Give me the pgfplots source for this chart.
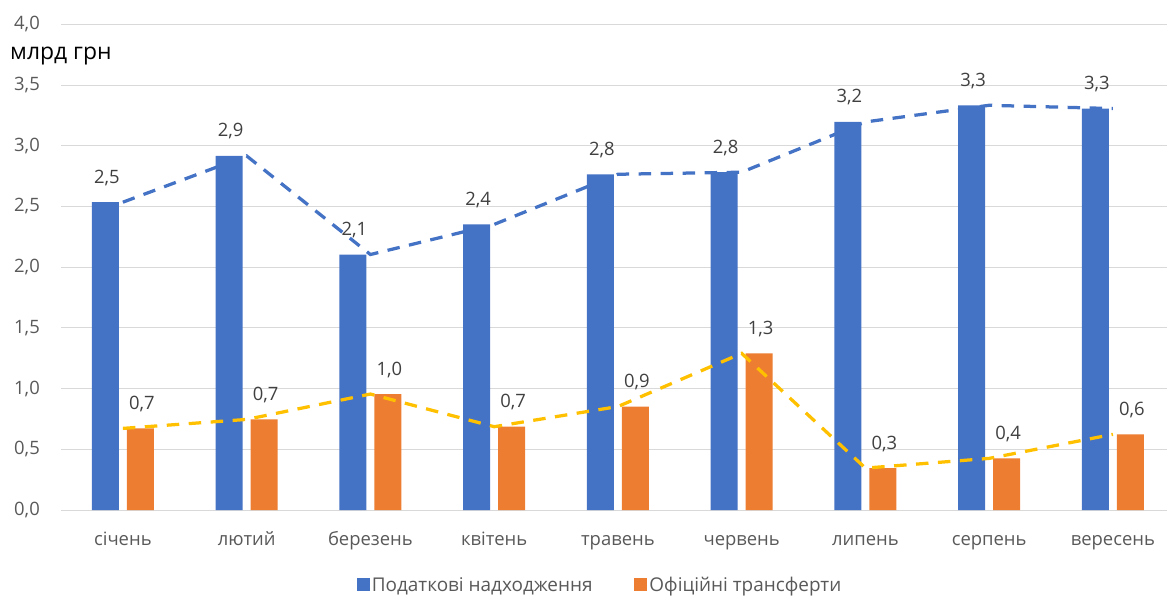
\documentclass[border=0pt]{standalone}
\usepackage{pgfplots}
\pgfplotsset{compat=1.18}
\usepackage{pgfplotstable}
\usepackage{fontspec}
\setmainfont{Open Sans}

\definecolor{blu}{HTML}{4472C4}
\definecolor{ora}{HTML}{ED7D31}
\definecolor{yel}{HTML}{FFC000}
\definecolor{gridc}{HTML}{D9D9D9}
\definecolor{tickc}{HTML}{595959}
\definecolor{lblc}{HTML}{404040}

\pgfplotsset{/pgf/number format/assume math mode=true}

% податкові надходження, млрд грн
\pgfplotstableread{
m v
0 2.535
1 2.916
2 2.104
3 2.352
4 2.765
5 2.782
6 3.196
7 3.333
8 3.306
}\tax

% офіційні трансферти, млрд грн
\pgfplotstableread{
m v
0 0.672
1 0.746
2 0.955
3 0.686
4 0.852
5 1.290
6 0.345
7 0.425
8 0.623
}\trf

\begin{document}
\begin{tikzpicture}
\begin{axis}[
  at={(0,0)}, anchor=south west,
  scale only axis, width=1106bp, height=485.7bp,
  xmin=-0.5, xmax=8.437, ymin=0, ymax=4,
  clip=false,
  xtick={0,1,2,3,4,5,6,7,8},
  xticklabels={січень,лютий,березень,квітень,травень,червень,липень,серпень,вересень},
  ytick={0,0.5,1,1.5,2,2.5,3,3.5,4},
  ymajorgrids, grid style={draw=gridc, line width=1bp},
  axis line style={draw=none}, major tick length=0pt,
  tick label style={font=\fontsize{18.5}{21}\selectfont, text=tickc, inner sep=0pt},
  yticklabel style={anchor=east, xshift=-21bp,
    /pgf/number format/.cd, fixed, fixed zerofill, precision=1, use comma},
  xticklabel style={anchor=base, yshift=-35bp},
  legend style={at={(0.4874,-0.1544)}, anchor=center, draw=none, fill=none,
    legend columns=2, font=\fontsize{19}{22}\selectfont, text=tickc,
    /tikz/every even column/.append style={column sep=40bp}},
  legend image code/.code={\fill[#1, draw=none] (0bp,-6.5bp) rectangle (13bp,6.5bp);},
]
  % bars
  \addplot[ybar, bar width=27bp, bar shift=-17.5bp, fill=blu, draw=none] table[x=m,y=v]{\tax};
  \addlegendentry{Податкові надходження}
  \addplot[ybar, bar width=27bp, bar shift=17.5bp, fill=ora, draw=none] table[x=m,y=v]{\trf};
  \addlegendentry{Офіційні трансферти}

  % dashed lines
  \addplot[forget plot, blu, line width=3.25bp, dash pattern=on 12.5bp off 9.5bp] table[x=m,y=v]{\tax};
  \addplot[forget plot, yel, line width=3.25bp, dash pattern=on 12.5bp off 9.5bp] table[x=m,y=v]{\trf};

  % data labels on top
  \addplot[forget plot, ybar, bar width=27bp, bar shift=-17.5bp, draw=none, fill=none,
    nodes near coords, nodes near coords style={font=\fontsize{18.5}{21}\selectfont, text=lblc, anchor=base, yshift=19bp, xshift=-16bp,
      /pgf/number format/.cd, fixed, fixed zerofill, precision=1, use comma}] table[x=m,y=v]{\tax};
  \addplot[forget plot, ybar, bar width=27bp, bar shift=17.5bp, draw=none, fill=none,
    nodes near coords, nodes near coords style={font=\fontsize{18.5}{21}\selectfont, text=lblc, anchor=base, yshift=19bp, xshift=19bp,
      /pgf/number format/.cd, fixed, fixed zerofill, precision=1, use comma}] table[x=m,y=v]{\trf};
\end{axis}
\node[anchor=base west, inner sep=0pt, font=\fontsize{23}{26}\selectfont] at (-51bp,450bp) {млрд грн};
\pgfresetboundingbox
\path (-61bp,-87bp) rectangle (1106bp,510bp);
\end{tikzpicture}
\end{document}
